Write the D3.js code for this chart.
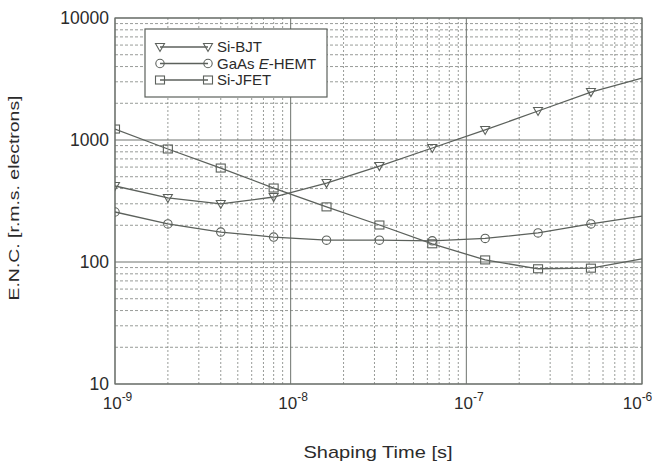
<!DOCTYPE html>
<html>
<head>
<meta charset="utf-8">
<script src="https://cdn.jsdelivr.net/npm/d3@7"></script>
<style>
  body { margin: 0; background: #fff; }
  text { font-family: "Liberation Sans", Arial, sans-serif; fill: #2b2b2b; }
</style>
</head>
<body>
<div id="chart"></div>
<script>
// ENC vs shaping time, log-log
const shapingTime = [1e-9, 2e-9, 4e-9, 8e-9, 1.6e-8, 3.2e-8, 6.4e-8, 1.28e-7, 2.56e-7, 5.12e-7, 1e-6];
const siBJT    = [420, 335, 299, 341, 444, 612, 860, 1208, 1729, 2473, 3221];
const gaasHEMT = [257, 205, 176, 160, 151, 151, 149, 156, 173, 205, 238];
const siJFET   = [1230, 844, 589, 404, 283, 201, 141, 104, 88, 89, 106];

const seriesNames = ['Si-BJT', 'GaAs E-HEMT', 'Si-JFET'];
const seriesShapes = ['triangle', 'circle', 'square'];
const xTicks = [1e-9, 1e-8, 1e-7, 1e-6];
const xTickExp = ['-9', '-8', '-7', '-6'];
const yTicks = [10, 100, 1000, 10000];

var svgWidth = 655;
var svgHeight = 468;
var margin = { top: 18, right: 13, bottom: 84, left: 115 };
const width = svgWidth - margin.left - margin.right;
const height = svgHeight - margin.top - margin.bottom;

const lineColor = '#5c615c';
const gridColor = '#7d827d';

var svg = d3.select('#chart').append('svg')
    .attr('width', svgWidth)
    .attr('height', svgHeight);

var chartGroup = svg.append('g')
    .attr('transform', `translate(${margin.left}, ${margin.top})`);

var xScale = d3.scaleLog().domain([1e-9, 1e-6]).range([0, width]);
var yScale = d3.scaleLog().domain([10, 10000]).range([height, 0]);

// minor grid values (2..9 in each decade)
var xMinor = [], yMinor = [];
xTicks.slice(0, -1).forEach(d => { for (let k = 2; k <= 9; k++) xMinor.push(d * k); });
yTicks.slice(0, -1).forEach(d => { for (let k = 2; k <= 9; k++) yMinor.push(d * k); });

chartGroup.append('g').selectAll('line').data(xMinor).enter().append('line')
    .attr('x1', d => xScale(d)).attr('x2', d => xScale(d))
    .attr('y1', 0).attr('y2', height)
    .attr('stroke', gridColor).attr('stroke-width', 0.8).attr('stroke-dasharray', '2,2');
chartGroup.append('g').selectAll('line').data(yMinor).enter().append('line')
    .attr('y1', d => yScale(d)).attr('y2', d => yScale(d))
    .attr('x1', 0).attr('x2', width)
    .attr('stroke', gridColor).attr('stroke-width', 0.8).attr('stroke-dasharray', '3,2');

// major grid
chartGroup.append('g').selectAll('line').data(xTicks).enter().append('line')
    .attr('x1', d => xScale(d)).attr('x2', d => xScale(d))
    .attr('y1', 0).attr('y2', height)
    .attr('stroke', '#6e736e').attr('stroke-width', 1);
chartGroup.append('g').selectAll('line').data(yTicks).enter().append('line')
    .attr('y1', d => yScale(d)).attr('y2', d => yScale(d))
    .attr('x1', 0).attr('x2', width)
    .attr('stroke', '#6e736e').attr('stroke-width', 1);

// axes (labels only)
var xAxis = chartGroup.append('g')
    .attr('transform', `translate(0, ${height})`)
    .call(d3.axisBottom(xScale).tickValues(xTicks).tickSize(0).tickPadding(13).tickFormat(() => ''));
xAxis.select('.domain').remove();
xAxis.selectAll('.tick text').each(function(d, i) {
    var t = d3.select(this).attr('font-size', 17).attr('dx', i === xTicks.length - 1 ? -5 : 2);
    t.append('tspan').text('10');
    t.append('tspan').attr('dy', -8).attr('font-size', 12).text(xTickExp[i]);
});

var yAxis = chartGroup.append('g')
    .call(d3.axisLeft(yScale).tickValues(yTicks).tickSize(0).tickPadding(6).tickFormat(d3.format('d')));
yAxis.select('.domain').remove();
yAxis.selectAll('.tick text').attr('font-size', 17.5).attr('fill', '#2b2b2b');

// box
chartGroup.append('rect')
    .attr('width', width).attr('height', height)
    .attr('fill', 'none').attr('stroke', '#6e736e').attr('stroke-width', 1.2);

svg.append('defs').append('clipPath').attr('id', 'plot-clip')
    .append('rect').attr('width', width).attr('height', height);

function drawMarker(g, shape, x, y) {
    if (shape === 'triangle') {
        g.append('path')
            .attr('d', `M${x - 4.5},${y - 3.5} L${x + 4.5},${y - 3.5} L${x},${y + 4.5} Z`);
    } else if (shape === 'circle') {
        g.append('circle').attr('cx', x).attr('cy', y).attr('r', 4.2);
    } else {
        g.append('rect').attr('x', x - 4.5).attr('y', y - 4).attr('width', 9).attr('height', 8);
    }
}

var createLine = d3.line()
    .x((d, i) => xScale(shapingTime[i]))
    .y(d => yScale(d));

var plotGroup = chartGroup.append('g').attr('clip-path', 'url(#plot-clip)');
[siBJT, gaasHEMT, siJFET].forEach((values, s) => {
    plotGroup.append('path')
        .attr('d', createLine(values))
        .attr('fill', 'none').attr('stroke', lineColor).attr('stroke-width', 1.3);
    var mg = plotGroup.append('g')
        .attr('fill', 'none').attr('stroke', lineColor).attr('stroke-width', 1.1);
    values.slice(0, -1).forEach((v, i) => {
        drawMarker(mg, seriesShapes[s], xScale(shapingTime[i]), yScale(v));
    });
});

// legend
var legend = svg.append('g').attr('transform', 'translate(145, 29)');
legend.append('rect')
    .attr('width', 182).attr('height', 68)
    .attr('fill', '#fff').attr('stroke', '#5c615c').attr('stroke-width', 1.2);
seriesNames.forEach((name, i) => {
    var ly = 18 + i * 16.5;
    legend.append('line')
        .attr('x1', 15).attr('x2', 63).attr('y1', ly).attr('y2', ly)
        .attr('stroke', lineColor).attr('stroke-width', 1.3);
    var mg = legend.append('g').attr('fill', 'none').attr('stroke', lineColor).attr('stroke-width', 1.1);
    drawMarker(mg, seriesShapes[i], 15, ly);
    drawMarker(mg, seriesShapes[i], 63, ly);
    var t = legend.append('text').attr('x', 72).attr('y', ly + 5).attr('font-size', 15);
    if (name.indexOf('E-') >= 0) {
        t.append('tspan').text('GaAs ');
        t.append('tspan').attr('font-style', 'italic').text('E');
        t.append('tspan').text('-HEMT');
    } else {
        t.text(name);
    }
});

// axis titles
svg.append('text')
    .attr('x', 378).attr('y', 458)
    .attr('text-anchor', 'middle').attr('font-size', 17)
    .attr('textLength', 149).attr('lengthAdjust', 'spacingAndGlyphs')
    .text('Shaping Time [s]');

svg.append('text')
    .attr('transform', 'translate(19, 198) rotate(-90)')
    .attr('text-anchor', 'middle').attr('font-size', 15)
    .attr('textLength', 205).attr('lengthAdjust', 'spacingAndGlyphs')
    .text('E.N.C. [r.m.s. electrons]');
</script>
</body>
</html>
